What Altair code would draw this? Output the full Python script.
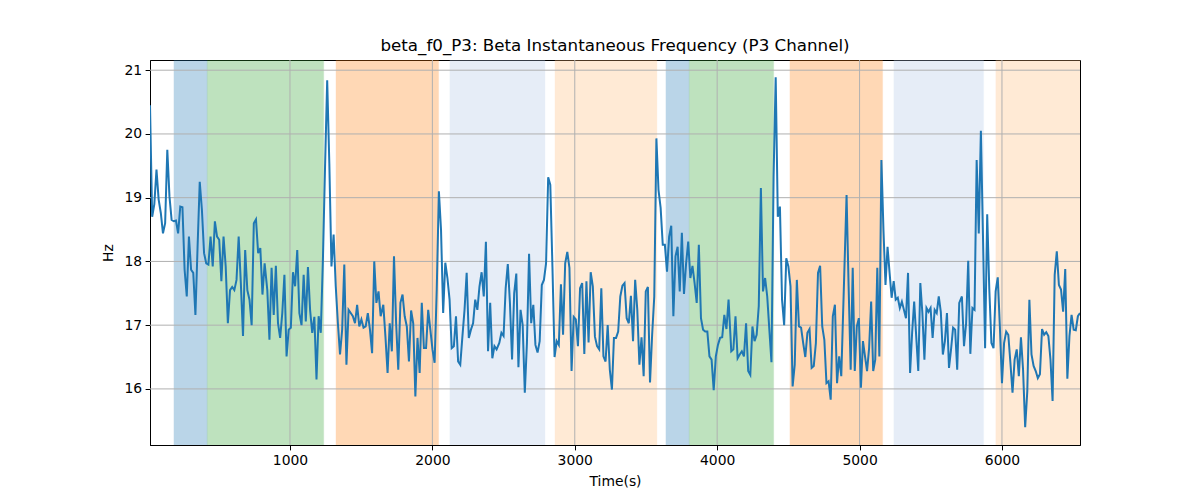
import altair as alt
import numpy as np
import pandas as pd

# ---- data -------------------------------------------------------------
# line traced in 8 consecutive segments: (start_time, end_time)
seg_times = [(17, 822), (840.8, 1636.8), (1655.4, 2451), (2470, 3261),
             (3275, 4080), (4099, 4871.5), (4908.7, 5700), (5718.6, 6548)]

seg1 = [20.45, 18.7, 18.9, 19.44, 18.97, 18.76, 18.44, 18.6, 19.75, 19.02, 18.65, 18.63, 18.64, 18.44,
        18.86, 18.85, 17.87, 17.45, 18.39, 17.87, 17.82, 17.16, 18.23, 19.25, 18.81, 18.13, 17.97, 17.95,
        18.39, 17.92, 18.63, 18.39, 18.34, 17.69, 18.39, 17.92, 17.03, 17.55, 17.6, 17.55, 17.71, 18.39,
        17.66, 16.83, 18.18, 17.55, 17.4, 17.0, 18.6, 18.66, 18.13, 18.21, 17.48, 17.97]
seg2 = [17.55, 16.77, 17.9, 17.16, 17.93, 17.03, 16.8, 17.19, 17.79, 16.51, 16.93, 16.96, 17.83, 17.61,
        18.18, 17.19, 17.0, 17.79, 17.06, 17.91, 17.24, 16.88, 17.13, 16.15, 17.14, 16.88, 18.03, 19.49,
        20.84, 19.54, 17.92, 18.42, 17.61, 17.03, 16.54, 16.93, 17.95, 16.38, 17.24, 17.19, 17.14, 17.03,
        17.32, 16.98, 17.09, 16.96, 16.98, 17.19, 16.93, 16.56, 18.0, 17.35, 17.53, 17.14]
seg3 = [17.32, 16.82, 16.25, 17.03, 16.59, 18.08, 17.03, 16.3, 17.35, 17.48, 17.14, 16.98, 16.43, 17.23,
        17.03, 15.88, 16.8, 16.25, 17.35, 16.64, 16.64, 17.24, 16.93, 16.62, 16.41, 17.56, 19.1, 18.5,
        17.19, 17.98, 17.74, 17.4, 16.64, 16.67, 17.14, 16.43, 16.38, 16.82, 17.24, 17.82, 16.8, 16.93,
        17.03, 17.4, 17.24, 17.61, 17.83, 17.45, 18.31, 16.59, 17.35, 16.48, 16.67, 16.62]
seg4 = [16.72, 16.88, 16.83, 17.58, 17.96, 17.35, 16.46, 17.5, 17.81, 16.34, 17.24, 17.0, 15.94, 16.72,
        18.12, 17.03, 17.32, 16.69, 16.57, 16.75, 17.63, 17.71, 17.97, 19.32, 19.2, 17.92, 16.5, 16.75,
        16.69, 17.64, 16.85, 17.97, 18.15, 17.9, 16.28, 17.13, 17.09, 16.67, 17.58, 17.66, 16.55, 17.69,
        16.73, 17.83, 17.61, 16.82, 16.67, 16.62, 17.58, 16.51, 16.43, 17.0, 16.3, 15.99]
seg5 = [16.8, 16.8, 16.9, 17.45, 17.62, 17.66, 17.11, 17.03, 17.46, 16.75, 17.71, 17.24, 16.38, 16.81,
        16.2, 17.53, 17.6, 16.1, 16.85, 17.45, 19.93, 19.12, 18.84, 18.26, 18.26, 17.84, 18.39, 18.56,
        17.14, 18.08, 18.23, 17.53, 18.45, 17.49, 17.97, 18.31, 17.74, 17.93, 17.66, 17.35, 18.26, 17.11,
        16.93, 16.9, 16.9, 16.51, 16.46, 15.98, 16.51, 16.69, 16.8, 16.81, 17.16, 16.94, 17.4]
seg6 = [16.59, 16.62, 17.14, 16.48, 16.54, 16.59, 16.51, 17.03, 16.28, 16.22, 16.98, 16.75, 16.85, 17.3,
        19.15, 17.53, 17.74, 17.45, 16.93, 16.42, 19.33, 20.89, 18.7, 18.86, 17.4, 17.0, 18.05, 17.92,
        17.61, 16.04, 16.38, 17.71, 16.98, 16.96, 16.72, 16.5, 16.88, 16.94, 16.33, 16.36, 16.72, 17.82,
        17.93, 16.98, 16.77, 16.09, 16.12, 15.83, 17.14, 17.32, 16.09, 16.51, 16.2]
seg7 = [19.04, 17.61, 16.3, 17.9, 16.28, 16.98, 17.11, 16.02, 16.75, 16.51, 16.28, 16.64, 17.37, 16.28,
        16.46, 17.9, 16.51, 19.59, 18.5, 17.63, 18.23, 17.82, 17.43, 17.69, 17.4, 17.43, 17.27, 17.37,
        17.24, 17.11, 17.82, 16.25, 16.88, 17.37, 16.82, 16.28, 17.66, 17.19, 16.46, 17.27, 17.21, 17.27,
        16.8, 17.24, 17.19, 17.45, 17.21, 16.54, 16.75, 17.19, 16.33, 16.62, 16.96, 16.93, 16.3, 17.35]
seg8 = [17.45, 16.67, 17.03, 18.01, 16.55, 17.27, 17.24, 19.59, 18.44, 20.05, 18.39, 16.64, 18.74, 17.56,
        16.72, 16.64, 17.53, 17.75, 16.98, 16.09, 16.72, 16.9, 16.85, 16.41, 15.94, 16.46, 16.62, 16.2,
        16.81, 16.3, 15.4, 15.96, 17.4, 16.54, 16.36, 16.28, 16.17, 16.23, 16.94, 16.85, 16.89, 16.83,
        16.46, 15.81, 17.79, 18.16, 17.63, 17.56, 17.21, 17.88, 16.16, 16.83, 17.16, 16.93, 16.92, 17.14,
        17.19]
segments = [seg1, seg2, seg3, seg4, seg5, seg6, seg7, seg8]

# shaded intervals
span_start = [185, 419, 1323, 2123, 2861, 3640, 3804, 4511, 5241, 5957]
span_end = [419, 1237, 2044, 2791, 3577, 3804, 4397, 5162, 5871, 6600]
span_kind = ["A", "B", "C", "D", "E", "A", "B", "C", "D", "E"]
kind_domain = ["A", "B", "C", "D", "E"]
kind_colors = ["#1f77b4", "#2ca02c", "#ff7f0e", "#aec7e8", "#ffbb78"]

x_ticks = [1000, 2000, 3000, 4000, 5000, 6000]
y_ticks = [16, 17, 18, 19, 20, 21]
x_domain = [17, 6548]
y_domain = [15.12, 21.16]

# ---- build tables -------------------------------------------------------
rows = []
k = 0
for (t0, t1), vals in zip(seg_times, segments):
    ts = np.linspace(t0, t1, len(vals))
    for t, v in zip(ts, vals):
        rows.append({"t": float(t), "hz": v, "i": k})
        k += 1
line_df = pd.DataFrame(rows)
span_df = pd.DataFrame({"s": span_start, "e": span_end, "kind": span_kind})
xg_df = pd.DataFrame({"x": x_ticks})
yg_df = pd.DataFrame({"y": y_ticks})

FONT = "DejaVu Sans"
xs = alt.Scale(domain=x_domain, nice=False, zero=False)
ys = alt.Scale(domain=y_domain, nice=False, zero=False)

x_axis = alt.Axis(values=x_ticks, title="Time(s)", grid=False, format="d")
y_axis = alt.Axis(values=y_ticks, title="Hz", grid=False, format="d")

spans = alt.Chart(span_df).mark_rect(opacity=0.3, strokeOpacity=0.3, strokeWidth=1, clip=True).encode(
    x=alt.X("s:Q", scale=xs, axis=x_axis),
    x2="e:Q",
    color=alt.Color("kind:N", scale=alt.Scale(domain=kind_domain, range=kind_colors), legend=None),
    stroke=alt.Stroke("kind:N", scale=alt.Scale(domain=kind_domain, range=kind_colors), legend=None),
)

xgrid = alt.Chart(xg_df).mark_rule(color="#b0b0b0", strokeWidth=1).encode(
    x=alt.X("x:Q", scale=xs, axis=x_axis)
)
ygrid = alt.Chart(yg_df).mark_rule(color="#b0b0b0", strokeWidth=1).encode(
    y=alt.Y("y:Q", scale=ys, axis=y_axis)
)

line = alt.Chart(line_df).mark_line(color="#1f77b4", strokeWidth=2, clip=True).encode(
    x=alt.X("t:Q", scale=xs, axis=x_axis),
    y=alt.Y("hz:Q", scale=ys, axis=y_axis),
    order="i:Q",
)

chart = alt.layer(spans, xgrid, ygrid, line).resolve_scale(color="independent").properties(
    width=930,
    height=385,
    autosize=alt.AutoSizeParams(type="none"),
    padding={"left": 142, "top": 52, "right": 100, "bottom": 55},
    title=alt.TitleParams(
        "beta_f0_P3: Beta Instantaneous Frequency (P3 Channel)",
        font=FONT, fontSize=16.7, fontWeight="normal", color="black",
        anchor="middle", baseline="bottom", offset=7, dy=19,
    ),
).configure_view(stroke="black", strokeWidth=1).configure_axis(
    domainColor="black", domainWidth=1, tickColor="black", tickWidth=1, tickSize=4.9,
    labelFont=FONT, labelFontSize=13.9, labelColor="black", labelPadding=3.5,
    titleFont=FONT, titleFontSize=13.9, titleFontWeight="normal", titleColor="black",
).configure_axisX(titlePadding=7).configure_axisY(titlePadding=8)

chart.save("out.html", embed_options={"renderer": "svg", "actions": False})
